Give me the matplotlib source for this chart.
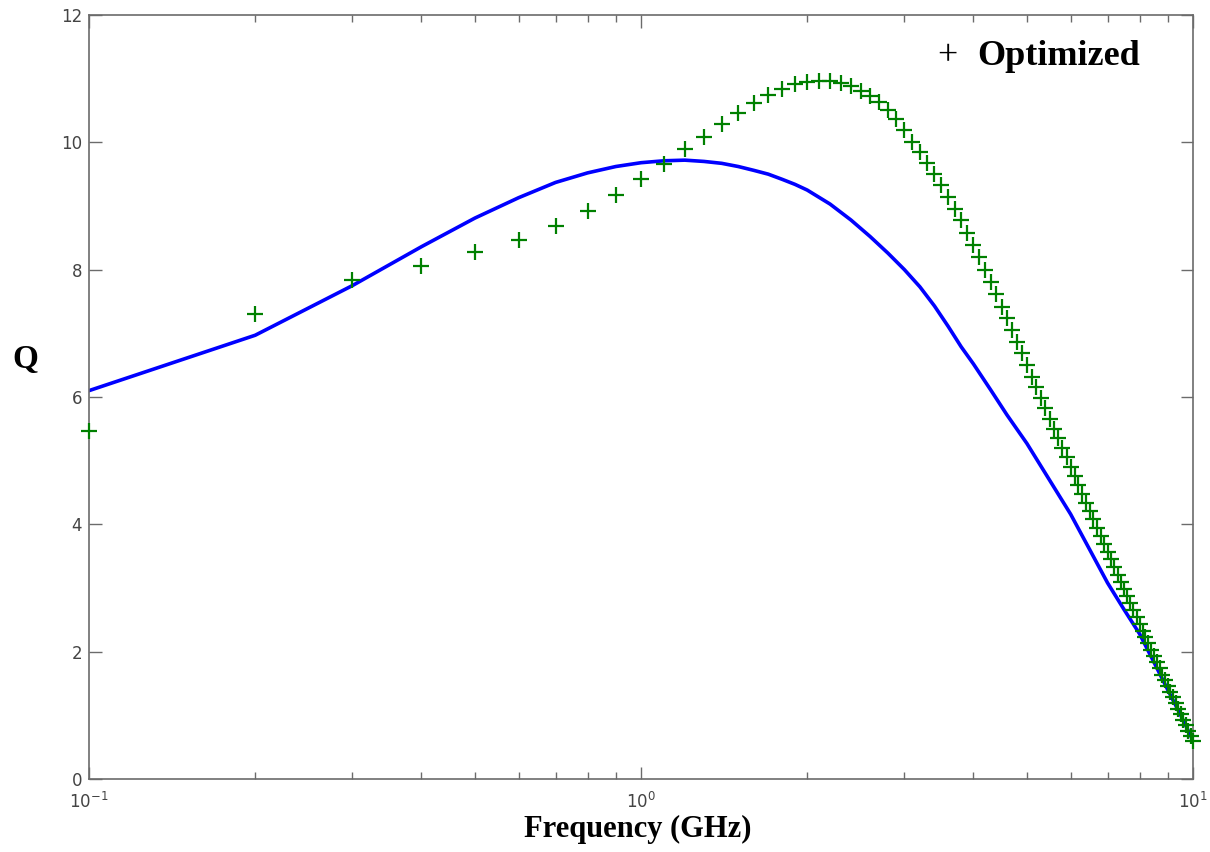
import numpy as np
import matplotlib
matplotlib.use("Agg")
import matplotlib.pyplot as plt
from matplotlib.ticker import LogLocator, FixedLocator

# ---- data ----
freq_opt = [round(0.1 * i, 1) for i in range(1, 101)]
q_opt = [5.47, 7.30, 7.83, 8.06, 8.28, 8.47, 8.69, 8.92, 9.17, 9.42,
         9.66, 9.89, 10.08, 10.29, 10.46, 10.61, 10.74, 10.84, 10.91, 10.95,
         10.97, 10.96, 10.93, 10.88, 10.81, 10.73, 10.63, 10.51, 10.37, 10.19,
         10.01, 9.85, 9.67, 9.51, 9.33, 9.14, 8.96, 8.78, 8.58, 8.39,
         8.20, 8.00, 7.80, 7.61, 7.42, 7.24, 7.05, 6.87, 6.69, 6.50,
         6.32, 6.15, 5.98, 5.82, 5.66, 5.50, 5.35, 5.20, 5.05, 4.90,
         4.76, 4.62, 4.48, 4.34, 4.21, 4.08, 3.95, 3.82, 3.69, 3.57,
         3.45, 3.33, 3.21, 3.10, 2.98, 2.87, 2.76, 2.65, 2.54, 2.44,
         2.33, 2.23, 2.13, 2.03, 1.93, 1.83, 1.74, 1.64, 1.55, 1.46,
         1.37, 1.28, 1.19, 1.10, 1.02, 0.93, 0.85, 0.76, 0.68, 0.60]

freq_ref = [0.1, 0.2, 0.3, 0.4, 0.5, 0.6, 0.7, 0.8, 0.9, 1.0,
            1.1, 1.2, 1.3, 1.4, 1.5, 1.6, 1.7, 1.8, 1.9, 2.0,
            2.2, 2.4, 2.6, 2.8, 3.0, 3.2, 3.4, 3.6, 3.8, 4.0,
            4.3, 4.6, 5.0, 5.5, 6.0, 6.5, 7.0, 7.5, 8.0, 8.5,
            9.0, 9.5, 10.0]
q_ref = [6.10, 6.97, 7.75, 8.36, 8.81, 9.13, 9.37, 9.52, 9.62, 9.68,
         9.71, 9.72, 9.70, 9.67, 9.62, 9.56, 9.50, 9.42, 9.34, 9.25,
         9.03, 8.78, 8.52, 8.26, 8.00, 7.73, 7.43, 7.11, 6.79, 6.52,
         6.11, 5.72, 5.27, 4.69, 4.16, 3.60, 3.08, 2.66, 2.28, 1.83,
         1.40, 1.00, 0.60]

x_label = "Frequency (GHz)"
y_label = "Q"
legend_label = "Optimized"

# ---- figure ----
fig = plt.figure(figsize=(12.10, 8.52), dpi=100)
ax = fig.add_axes([0.0736, 0.0857, 0.9124, 0.8967])

ax.plot(freq_ref, q_ref, color=(0, 0, 1), linewidth=2.6, zorder=2)
ax.plot(freq_opt, q_opt, linestyle="none", marker="+", color=(0, 0.5, 0),
        markersize=12, markeredgewidth=1.6, zorder=3, clip_on=False)

ax.set_xscale("log")
ax.set_xlim(0.1, 10)
ax.set_ylim(0, 12)
ax.xaxis.set_major_locator(LogLocator(base=10, numticks=10))
ax.xaxis.set_minor_locator(LogLocator(base=10, subs=np.arange(2, 10), numticks=20))
ax.yaxis.set_major_locator(FixedLocator([0, 2, 4, 6, 8, 10, 12]))
ax.yaxis.set_minor_locator(FixedLocator([]))

spine_col = "#6b6b6b"
for s in ax.spines.values():
    s.set_color(spine_col)
    s.set_linewidth(1.2)

ax.tick_params(axis="both", which="both", direction="in", top=True, right=True,
               color=spine_col, width=1.0)
ax.tick_params(axis="both", which="major", length=9, labelsize=12,
               labelcolor="#444444")
ax.tick_params(axis="x", which="minor", length=5)
ax.tick_params(axis="x", which="major", pad=9)
ax.tick_params(axis="y", which="major", pad=5)

serif = ["Liberation Serif", "DejaVu Serif"]
fig.text(0.527, 0.026, x_label, ha="center", va="center", family=serif,
         fontweight="bold", fontsize=22)
fig.text(0.021, 0.578, y_label, ha="center", va="center", family=serif,
         fontweight="bold", fontsize=24)

# legend entry (upper right)
fig.text(0.783, 0.934, "+", ha="center", va="center", family=serif,
         fontsize=26, color="black")
fig.text(0.808, 0.934, legend_label, ha="left", va="center", family=serif,
         fontweight="bold", fontsize=26, color="black")

fig.savefig("out.png", dpi=100)
